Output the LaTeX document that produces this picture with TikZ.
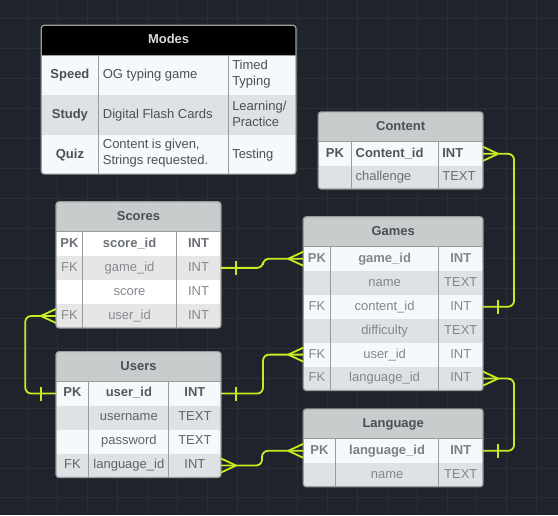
\documentclass[tikz,border=0pt]{standalone}
\usepackage{fontspec}
\setmainfont{Liberation Sans}
\usetikzlibrary{calc}
\definecolor{bgc}{HTML}{1F232B}
\definecolor{gridc}{HTML}{2A2E36}
\definecolor{hdrfill}{HTML}{C9CCCD}
\definecolor{hdrtext}{HTML}{4A4F57}
\definecolor{framec}{HTML}{9B9B9B}
\definecolor{lightrow}{HTML}{F5F9FC}
\definecolor{greyrow}{HTML}{DEE2E5}
\definecolor{srow}{HTML}{E6E6E6}
\definecolor{relc}{HTML}{C4EE22}
\definecolor{modestext}{HTML}{4B5058}
\definecolor{sctext}{HTML}{84898F}
\definecolor{scpk}{HTML}{6B7078}
\definecolor{ustext}{HTML}{5E636A}
\definecolor{uspk}{HTML}{555A62}
\definecolor{cotext}{HTML}{6A6F76}
\definecolor{copk}{HTML}{50555C}
\definecolor{gatext}{HTML}{82878E}
\definecolor{lapk}{HTML}{7A7F86}
\newcommand\erow[8]{% name x0 xa xb x1 y0 y1 fill
  \node[rowbg, fill=#8, minimum width={(#5-#2)*1pt}, minimum height={(#7-#6)*1pt}] (#1) at ({(#2+#5)/2},{(#6+#7)/2}) {};
  \draw[coldiv] (#3,#6) -- (#3,#7) (#4,#6) -- (#4,#7);}
\newcommand\crowft[2]{\draw[rel] ($(#1)+(#2,0)$) -- ($(#1)+(0,-7)$) ($(#1)+(#2,0)$) -- ($(#1)+(0,7)$);}
\newcommand\onebar[2]{\draw[rel] ($(#1)+(#2,-7)$) -- ($(#1)+(#2,7)$);}
\begin{document}
\begin{tikzpicture}[x=1pt,y=-1pt,
  rowbg/.style={rectangle, draw=none, inner sep=0pt, outer sep=0pt},
  coldiv/.style={draw=framec, line width=1pt},
  frame/.style={draw=framec, line width=1.2pt, rounded corners=3pt},
  txt/.style={inner sep=0pt, text height=9.6pt, text depth=2.8pt, font=\fontsize{13}{15}\selectfont},
  btxt/.style={txt, font=\fontsize{13}{15}\selectfont\bfseries},
  mtxt/.style={inner sep=0pt, align=left, anchor=west, font=\fontsize{13}{16}\selectfont},
  rel/.style={draw=relc, line width=1.8pt},
  relpath/.style={rel, rounded corners=6pt}]
\fill[bgc] (0,0) rectangle (558,515);
\foreach \gx in {27,57,...,557} \draw[gridc, line width=0.6pt] (\gx,0) -- (\gx,515);
\foreach \gy in {18,48,...,514} \draw[gridc, line width=0.6pt] (0,\gy) -- (558,\gy);
\useasboundingbox (0,0) rectangle (558,515);

% ---------- Modes ----------
\begin{scope}
\clip[rounded corners=3pt] (41,25) rectangle (296,174);
\node[rowbg, fill=black, minimum width=255pt, minimum height=30pt] (mo-h) at (168.5,40) {};
\erow{mo-speed}{41}{98.3}{228}{296}{55}{95}{lightrow}
\erow{mo-study}{41}{98.3}{228}{296}{95}{135}{greyrow}
\erow{mo-quiz}{41}{98.3}{228}{296}{135}{174}{lightrow}
\end{scope}
\draw[coldiv] (41,55) -- (296,55);
\draw[frame] (41,25) rectangle (296,174);
\node[btxt, text=white!85!black] (mo-ht) at (168.5,40) {Modes};
\node[btxt, text=modestext] (mo-s1) at (69.7,75) {Speed};
\node[txt, text=modestext, anchor=west] (mo-s2) at (102.5,75) {OG typing game};
\node[mtxt, text=modestext] (mo-s3) at (232,74) {Timed\\Typing};
\node[btxt, text=modestext] (mo-t1) at (69.7,115) {Study};
\node[txt, text=modestext, anchor=west] (mo-t2) at (102.5,115) {Digital Flash Cards};
\node[mtxt, text=modestext] (mo-t3) at (232,114) {Learning/\\Practice};
\node[btxt, text=modestext] (mo-q1) at (69.7,154.5) {Quiz};
\node[mtxt, text=modestext] (mo-q2) at (102.5,153.5) {Content is given,\\Strings requested.};
\node[txt, text=modestext, anchor=west] (mo-q3) at (232,154.5) {Testing};

% ---------- Content ----------
\begin{scope}
\clip[rounded corners=3pt] (318.3,111.7) rectangle (483.3,189);
\node[rowbg, fill=hdrfill, minimum width=165pt, minimum height=30pt] (co-h) at (400.8,126.7) {};
\erow{co-id}{318.3}{351.7}{438.7}{483.3}{141.7}{165.7}{lightrow}
\erow{co-ch}{318.3}{351.7}{438.7}{483.3}{165.7}{189}{greyrow}
\end{scope}
\draw[coldiv] (318.3,141.7) -- (483.3,141.7);
\draw[frame] (318.3,111.7) rectangle (483.3,189);
\node[btxt, text=hdrtext] (co-ht) at (400.8,126.7) {Content};
\node[btxt, text=copk] (co-1a) at (335,153.7) {PK};
\node[btxt, text=copk, anchor=west] (co-1b) at (355.5,153.7) {Content\_id};
\node[btxt, text=copk, anchor=west] (co-1c) at (442.3,153.7) {INT};
\node[txt, text=cotext, anchor=west] (co-2b) at (355.5,177.3) {challenge};
\node[txt, text=cotext, anchor=west] (co-2c) at (442.3,177.3) {TEXT};

% ---------- Scores ----------
\begin{scope}
\clip[rounded corners=3pt] (55.7,201.7) rectangle (221,328);
\node[rowbg, fill=hdrfill, minimum width=165.3pt, minimum height=30pt] (sc-h) at (138.35,216.7) {};
\erow{sc-id}{55.7}{82.7}{176}{221}{231.7}{255.8}{white}
\erow{sc-game}{55.7}{82.7}{176}{221}{255.8}{279.9}{srow}
\erow{sc-score}{55.7}{82.7}{176}{221}{279.9}{304}{white}
\erow{sc-user}{55.7}{82.7}{176}{221}{304}{328}{srow}
\end{scope}
\draw[coldiv] (55.7,231.7) -- (221,231.7);
\draw[frame] (55.7,201.7) rectangle (221,328);
\node[btxt, text=hdrtext] (sc-ht) at (138.35,216.7) {Scores};
\node[btxt, text=scpk] (sc-1a) at (69.2,243.7) {PK};
\node[btxt, text=scpk] (sc-1b) at (129.4,243.7) {score\_id};
\node[btxt, text=scpk] (sc-1c) at (198.5,243.7) {INT};
\node[txt, text=sctext] (sc-2a) at (69.2,267.8) {FK};
\node[txt, text=sctext] (sc-2b) at (129.4,267.8) {game\_id};
\node[txt, text=sctext] (sc-2c) at (198.5,267.8) {INT};
\node[txt, text=sctext] (sc-3b) at (129.4,292) {score};
\node[txt, text=sctext] (sc-3c) at (198.5,292) {INT};
\node[txt, text=sctext] (sc-4a) at (69.2,316) {FK};
\node[txt, text=sctext] (sc-4b) at (129.4,316) {user\_id};
\node[txt, text=sctext] (sc-4c) at (198.5,316) {INT};

% ---------- Games ----------
\begin{scope}
\clip[rounded corners=3pt] (303.3,216.7) rectangle (483.3,390.7);
\node[rowbg, fill=hdrfill, minimum width=180pt, minimum height=30pt] (ga-h) at (393.3,231.7) {};
\erow{ga-game}{303.3}{330.7}{438.7}{483.3}{246.7}{270.7}{lightrow}
\erow{ga-name}{303.3}{330.7}{438.7}{483.3}{270.7}{294.7}{greyrow}
\erow{ga-content}{303.3}{330.7}{438.7}{483.3}{294.7}{318.7}{lightrow}
\erow{ga-diff}{303.3}{330.7}{438.7}{483.3}{318.7}{342.7}{greyrow}
\erow{ga-user}{303.3}{330.7}{438.7}{483.3}{342.7}{366.7}{lightrow}
\erow{ga-lang}{303.3}{330.7}{438.7}{483.3}{366.7}{390.7}{greyrow}
\end{scope}
\draw[coldiv] (303.3,246.7) -- (483.3,246.7);
\draw[frame] (303.3,216.7) rectangle (483.3,390.7);
\node[btxt, text=hdrtext] (ga-ht) at (393.3,231.7) {Games};
\node[btxt, text=gatext] (ga-1a) at (317,258.7) {PK};
\node[btxt, text=gatext] (ga-1b) at (384.7,258.7) {game\_id};
\node[btxt, text=gatext] (ga-1c) at (461,258.7) {INT};
\node[txt, text=gatext] (ga-2b) at (384.7,282.7) {name};
\node[txt, text=gatext] (ga-2c) at (461,282.7) {TEXT};
\node[txt, text=gatext] (ga-3a) at (317,306.7) {FK};
\node[txt, text=gatext] (ga-3b) at (384.7,306.7) {content\_id};
\node[txt, text=gatext] (ga-3c) at (461,306.7) {INT};
\node[txt, text=gatext] (ga-4b) at (384.7,330.7) {difficulty};
\node[txt, text=gatext] (ga-4c) at (461,330.7) {TEXT};
\node[txt, text=gatext] (ga-5a) at (317,354.7) {FK};
\node[txt, text=gatext] (ga-5b) at (384.7,354.7) {user\_id};
\node[txt, text=gatext] (ga-5c) at (461,354.7) {INT};
\node[txt, text=gatext] (ga-6a) at (317,378.7) {FK};
\node[txt, text=gatext] (ga-6b) at (384.7,378.7) {language\_id};
\node[txt, text=gatext] (ga-6c) at (461,378.7) {INT};

% ---------- Users ----------
\begin{scope}
\clip[rounded corners=3pt] (55.7,351.7) rectangle (221,477.7);
\node[rowbg, fill=hdrfill, minimum width=165.3pt, minimum height=30pt] (us-h) at (138.35,366.7) {};
\erow{us-user}{55.7}{88.7}{168.7}{221}{381.7}{405.7}{lightrow}
\erow{us-name}{55.7}{88.7}{168.7}{221}{405.7}{429.7}{greyrow}
\erow{us-pass}{55.7}{88.7}{168.7}{221}{429.7}{453.7}{lightrow}
\erow{us-lang}{55.7}{88.7}{168.7}{221}{453.7}{477.7}{greyrow}
\end{scope}
\draw[coldiv] (55.7,381.7) -- (221,381.7);
\draw[frame] (55.7,351.7) rectangle (221,477.7);
\node[btxt, text=hdrtext] (us-ht) at (138.35,366.7) {Users};
\node[btxt, text=uspk] (us-1a) at (72.2,393.7) {PK};
\node[btxt, text=uspk] (us-1b) at (128.7,393.7) {user\_id};
\node[btxt, text=uspk] (us-1c) at (194.8,393.7) {INT};
\node[txt, text=ustext] (us-2b) at (128.7,417.7) {username};
\node[txt, text=ustext] (us-2c) at (194.8,417.7) {TEXT};
\node[txt, text=ustext] (us-3b) at (128.7,441.7) {password};
\node[txt, text=ustext] (us-3c) at (194.8,441.7) {TEXT};
\node[txt, text=ustext] (us-4a) at (72.2,465.7) {FK};
\node[txt, text=ustext] (us-4b) at (128.7,465.7) {language\_id};
\node[txt, text=ustext] (us-4c) at (194.8,465.7) {INT};

% ---------- Language ----------
\begin{scope}
\clip[rounded corners=3pt] (303.3,409) rectangle (483.3,487);
\node[rowbg, fill=hdrfill, minimum width=180pt, minimum height=30pt] (la-h) at (393.3,424) {};
\erow{la-lang}{303.3}{335.7}{438.7}{483.3}{439}{463}{lightrow}
\erow{la-name}{303.3}{335.7}{438.7}{483.3}{463}{487}{greyrow}
\end{scope}
\draw[coldiv] (303.3,439) -- (483.3,439);
\draw[frame] (303.3,409) rectangle (483.3,487);
\node[btxt, text=hdrtext] (la-ht) at (393.3,424) {Language};
\node[btxt, text=lapk] (la-1a) at (319.5,451) {PK};
\node[btxt, text=lapk] (la-1b) at (387.2,451) {language\_id};
\node[btxt, text=lapk] (la-1c) at (461,451) {INT};
\node[txt, text=gatext] (la-2b) at (387.2,475) {name};
\node[txt, text=gatext] (la-2c) at (461,475) {TEXT};

% ---------- Relations ----------
\draw[relpath] (sc-game.east) -- ++(42,0) |- (ga-game.west);
\onebar{sc-game.east}{15}
\crowft{ga-game.west}{-15}

\draw[relpath] (sc-user.west) -- ++(-30.7,0) |- (us-user.west);
\crowft{sc-user.west}{-15}
\onebar{us-user.west}{-15}

\draw[relpath] (us-user.east) -- ++(42,0) |- (ga-user.west);
\onebar{us-user.east}{15}
\crowft{ga-user.west}{-15}

\draw[relpath] (us-lang.east) -- ++(41,0) |- (la-lang.west);
\crowft{us-lang.east}{15}
\crowft{la-lang.west}{-15}

\draw[relpath] (ga-content.east) -- ++(31,0) |- (co-id.east);
\onebar{ga-content.east}{15}
\crowft{co-id.east}{15}

\draw[relpath] (ga-lang.east) -- ++(31,0) |- (la-lang.east);
\crowft{ga-lang.east}{15}
\onebar{la-lang.east}{15}
\end{tikzpicture}
\end{document}
